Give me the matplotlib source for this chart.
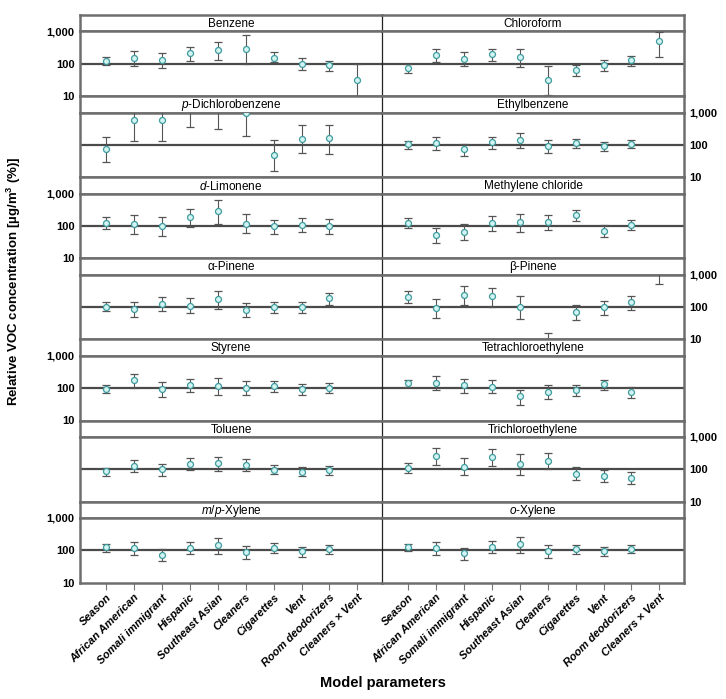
import matplotlib
matplotlib.use('Agg')
import matplotlib.pyplot as plt
import numpy as np
from matplotlib.ticker import FixedLocator, NullLocator, FixedFormatter

nan = np.nan

# model parameters (x categories)
params = ['Season', 'African American', 'Somali immigrant', 'Hispanic', 'Southeast Asian',
          'Cleaners', 'Cigarettes', 'Vent', 'Room deodorizers', 'Cleaners \u00d7 Vent']

# relative concentrations (%): estimate, lower, upper
benzene     = [124, 153, 130, 208, 263, 296, 153, 98, 89, 31]
benzene_lo  = [91, 85, 72, 118, 127, 100, 112, 62, 58, 10]
benzene_hi  = [164, 251, 208, 334, 475, 800, 223, 146, 124, 100]

chloroform    = [72, 180, 143, 194, 157, 31, 64, 89, 127, 522]
chloroform_lo = [50, 110, 85, 121, 77, 11, 41, 58, 83, 157]
chloroform_hi = [95, 290, 234, 290, 276, 83, 91, 127, 176, 990]

pdcb    = [73, 593, 566, 1300, 1300, 950, 47, 153, 165, nan]
pdcb_lo = [30, 133, 133, 344, 313, 194, 16, 55, 54, nan]
pdcb_hi = [177, 2000, 2000, 4000, 4000, 3000, 143, 416, 416, nan]

ethylbenzene    = [105, 113, 72, 121, 146, 95, 113, 93, 110, nan]
ethylbenzene_lo = [75, 70, 46, 75, 81, 58, 81, 65, 81, nan]
ethylbenzene_hi = [136, 177, 105, 177, 235, 139, 150, 121, 143, nan]

limonene    = [127, 115, 102, 185, 284, 113, 98, 110, 102, nan]
limonene_lo = [79, 55, 50, 95, 118, 59, 58, 67, 58, nan]
limonene_hi = [185, 219, 185, 344, 652, 235, 157, 181, 161, nan]

mecl    = [127, 51, 64, 127, 133, 136, 219, 72, 110, nan]
mecl_lo = [89, 30, 37, 70, 65, 77, 139, 47, 77, nan]
mecl_hi = [173, 85, 113, 199, 241, 219, 320, 105, 153, nan]

apinene    = [100, 85, 124, 110, 173, 83, 100, 100, 185, nan]
apinene_lo = [73, 48, 73, 67, 89, 49, 67, 65, 113, nan]
apinene_hi = [139, 139, 204, 185, 305, 130, 143, 139, 265, nan]

bpinene    = [204, 93, 235, 219, 100, 4, 71, 98, 139, 1600]
bpinene_lo = [130, 47, 115, 102, 44, 1, 41, 55, 82, 514]
bpinene_hi = [305, 177, 445, 396, 219, 16, 118, 155, 219, 5000]

styrene    = [95, 176, 93, 124, 118, 100, 115, 93, 102, nan]
styrene_lo = [69, 100, 54, 74, 61, 61, 77, 63, 69, nan]
styrene_hi = [121, 268, 153, 188, 212, 168, 164, 133, 142, nan]

perc    = [142, 145, 124, 110, 58, 77, 89, 135, 76, nan]
perc_lo = [110, 85, 72, 69, 30, 45, 57, 87, 49, nan]
perc_hi = [184, 233, 198, 176, 89, 121, 124, 176, 108, nan]

toluene    = [89, 130, 100, 146, 157, 139, 98, 85, 93, nan]
toluene_lo = [62, 83, 62, 95, 89, 89, 70, 61, 67, nan]
toluene_hi = [107, 198, 143, 218, 245, 203, 133, 115, 124, nan]

tce    = [113, 257, 121, 234, 143, 185, 72, 62, 54, nan]
tce_lo = [77, 139, 65, 124, 65, 100, 46, 39, 35, nan]
tce_hi = [160, 442, 218, 413, 289, 318, 115, 98, 83, nan]

mpxylene    = [124, 115, 73, 118, 143, 91, 121, 93, 113, nan]
mpxylene_lo = [91, 73, 46, 77, 79, 55, 85, 64, 79, nan]
mpxylene_hi = [161, 185, 110, 181, 241, 136, 169, 127, 150, nan]

oxylene    = [124, 118, 81, 127, 153, 95, 107, 95, 113, nan]
oxylene_lo = [93, 73, 50, 83, 85, 59, 79, 67, 85, nan]
oxylene_hi = [161, 181, 118, 190, 258, 150, 150, 127, 150, nan]

titles = ['Benzene', 'Chloroform', r'$\mathit{p}$-Dichlorobenzene', 'Ethylbenzene',
          r'$\mathit{d}$-Limonene', 'Methylene chloride', '\u03b1-Pinene', '\u03b2-Pinene',
          'Styrene', 'Tetrachloroethylene', 'Toluene', 'Trichloroethylene',
          r'$\mathit{m/p}$-Xylene', r'$\mathit{o}$-Xylene']
series = [(benzene, benzene_lo, benzene_hi), (chloroform, chloroform_lo, chloroform_hi),
          (pdcb, pdcb_lo, pdcb_hi), (ethylbenzene, ethylbenzene_lo, ethylbenzene_hi),
          (limonene, limonene_lo, limonene_hi), (mecl, mecl_lo, mecl_hi),
          (apinene, apinene_lo, apinene_hi), (bpinene, bpinene_lo, bpinene_hi),
          (styrene, styrene_lo, styrene_hi), (perc, perc_lo, perc_hi),
          (toluene, toluene_lo, toluene_hi), (tce, tce_lo, tce_hi),
          (mpxylene, mpxylene_lo, mpxylene_hi), (oxylene, oxylene_lo, oxylene_hi)]

plt.rcParams['font.family'] = ['Liberation Sans', 'DejaVu Sans']
plt.rcParams['mathtext.fontset'] = 'custom'
plt.rcParams['mathtext.it'] = 'Liberation Sans:italic'
plt.rcParams['mathtext.rm'] = 'Liberation Sans'
plt.rcParams['mathtext.bf'] = 'Liberation Sans:bold'

W, H = 726, 699
fig = plt.figure(figsize=(W / 100, H / 100), dpi=100)

top_px, row_px, strip_px = 15, 81.1, 16.4
left_px, col_px = 80, 302
frame_c, frame_lw = '#6e6e6e', 1.8
div_c, div_lw = '#222222', 0.9

x = np.arange(len(params))

for i, (name, (mid, lo, hi)) in enumerate(zip(titles, series)):
    row, col = divmod(i, 2)
    x0 = (left_px + col * col_px) / W
    strip_top = top_px + row * row_px
    # strip with compound name
    sax = fig.add_axes([x0, 1 - (strip_top + strip_px) / H, col_px / W, strip_px / H])
    sax.set_xticks([]); sax.set_yticks([])
    sax.text(0.5, 0.45, name, ha='center', va='center', fontsize=8.5, transform=sax.transAxes)
    # panel
    ax = fig.add_axes([x0, 1 - (strip_top + row_px) / H, col_px / W, (row_px - strip_px) / H])
    for a in (sax, ax):
        for s in ('top', 'bottom'):
            a.spines[s].set_color(frame_c); a.spines[s].set_linewidth(frame_lw)
        if col == 0:
            a.spines['left'].set_color(frame_c); a.spines['left'].set_linewidth(frame_lw)
            a.spines['right'].set_visible(False)
        else:
            a.spines['left'].set_color(div_c); a.spines['left'].set_linewidth(div_lw)
            a.spines['right'].set_color(frame_c); a.spines['right'].set_linewidth(frame_lw)

    mid = np.array(mid, float); lo = np.array(lo, float); hi = np.array(hi, float)
    ax.axhline(100, color='#4a4a4a', lw=1.6, zorder=1)
    ax.errorbar(x, mid, yerr=[mid - lo, hi - mid], fmt='o', ms=4.3, mfc='#d4f3f3',
                mec='#3f9c9c', mew=0.9, ecolor='#555555', elinewidth=0.8,
                capsize=3, capthick=0.8, zorder=3)
    ax.set_yscale('log')
    ax.set_ylim(10, 1000)
    ax.set_xlim(-0.93, 9.88)
    ax.yaxis.set_minor_locator(NullLocator())
    ax.yaxis.set_major_locator(FixedLocator([10, 100, 1000]))
    ax.yaxis.set_major_formatter(FixedFormatter(['10', '100', '1,000']))
    show_y = (col == 0 and row % 2 == 0) or (col == 1 and row % 2 == 1)
    ax.tick_params(axis='y', length=0, pad=4, labelsize=8,
                   left=False, right=False,
                   labelleft=(show_y and col == 0), labelright=(show_y and col == 1))
    for t in ax.get_yticklabels():
        t.set_fontweight('bold')
    ax.set_xticks(x)
    if row == 6:
        ax.tick_params(axis='x', length=5, width=0.8, color='#777777', pad=2)
        ax.set_xticklabels(params, rotation=45, ha='right', va='top',
                           rotation_mode='anchor', fontsize=8,
                           fontweight='bold', fontstyle='italic')
    else:
        ax.tick_params(axis='x', length=0, labelbottom=False)

fig.text(14 / W, 1 - 281 / H, 'Relative VOC concentration [\u00b5g/m$^\\mathbf{3}$ (%)]',
         rotation=90, ha='center', va='center', fontsize=9.5, fontweight='bold')
fig.text(383 / W, 1 - 683 / H, 'Model parameters', ha='center', va='center',
         fontsize=10.5, fontweight='bold')

fig.savefig('out.png', dpi=100)
